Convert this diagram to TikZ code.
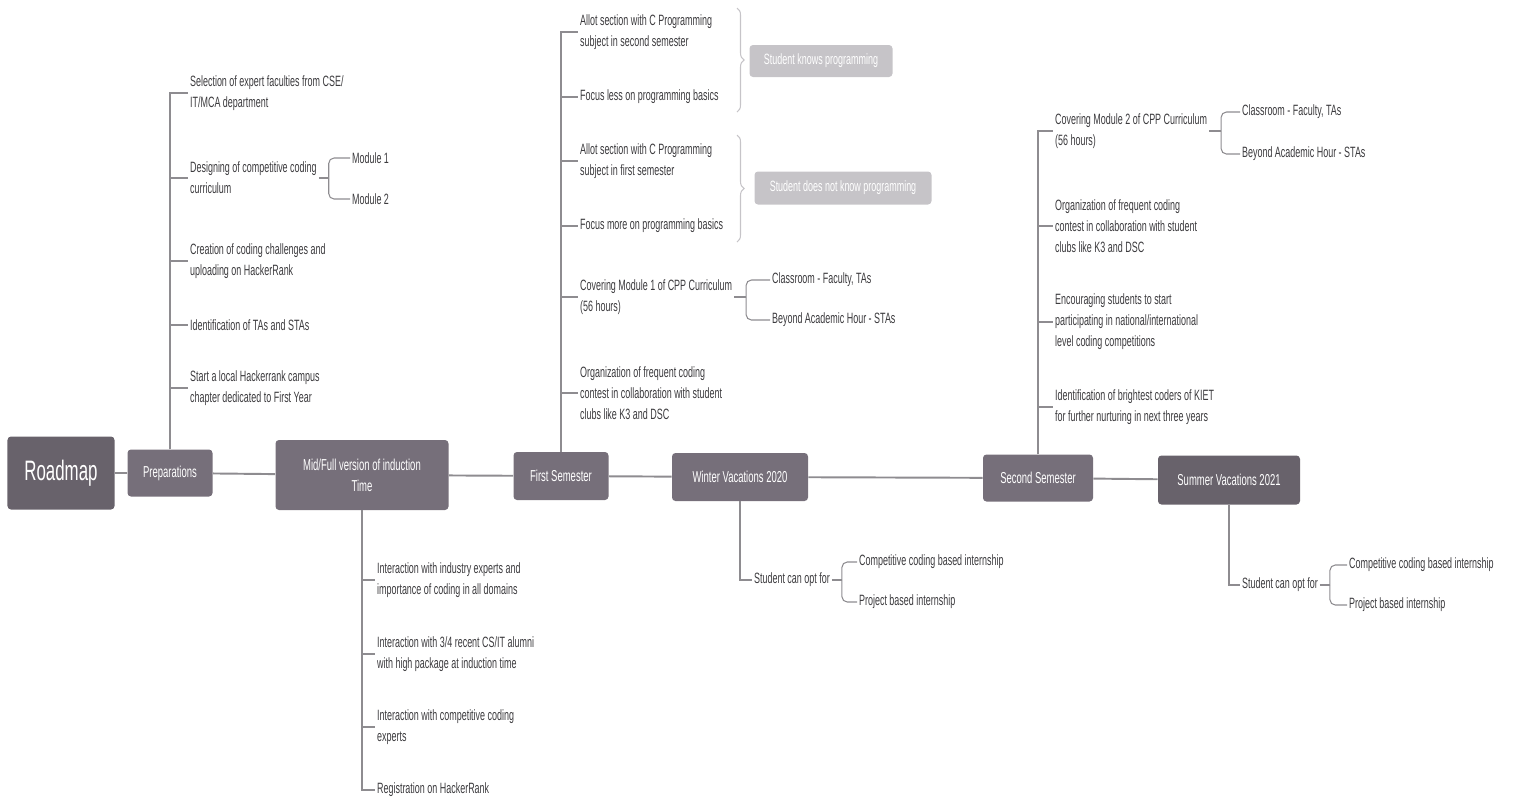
\documentclass[tikz,border=0pt]{standalone}
\usepackage{fontspec}
\setmainfont{Liberation Sans}[FakeStretch=0.6]
\usepackage{tikz}
\usetikzlibrary{positioning,decorations.pathreplacing}
\definecolor{rmdark}{HTML}{68626B}
\definecolor{rmbox}{HTML}{766F7A}
\definecolor{rmlight}{HTML}{C6C4C8}
\definecolor{rmline}{HTML}{8E8C90}
\definecolor{rmtext}{HTML}{3C3B3E}

\begin{document}
\begin{tikzpicture}[x=0.2mm,y=-0.2mm]
    \tikzset{stage/.style={fill=rmbox,rounded corners=2pt,text=white,align=center,inner sep=2pt,font=\fontsize{9}{12}\selectfont},
      leaf/.style={anchor=west,align=left,text=rmtext,inner sep=1pt,font=\fontsize{8.5}{12}\selectfont},
      group/.style={fill=rmlight,rounded corners=2pt,text=white,inner sep=2pt,font=\fontsize{8.5}{11}\selectfont},
      trunk/.style={draw=rmline,line width=1.1pt},
      branch/.style={draw=rmline,line width=0.6pt},
      joint/.style={draw=rmline,line width=0.6pt,rounded corners=3pt},
      grpbrace/.style={draw=rmlight,line width=0.6pt,decorate,decoration={brace,amplitude=4pt}}}
    \useasboundingbox (0,0) rectangle (1517,800);
    % main line of stages
    \node[stage,fill=rmdark,minimum width=21.4mm,minimum height=14.6mm,font=\fontsize{16}{18}\selectfont] (road) at (61,473) {Roadmap};
    \node[stage,minimum width=17mm,minimum height=9.4mm] (prep) at (170,473) {Preparations};
    \node[stage,minimum width=34.6mm,minimum height=14mm] (ind) at (362,475) {Mid/Full version of induction\\Time};
    \node[stage,minimum width=19mm,minimum height=9.6mm] (sem1) at (561,476) {First Semester};
    \node[stage,minimum width=27.2mm,minimum height=9.6mm] (win) at (740,477) {Winter Vacations 2020};
    \node[stage,minimum width=22mm,minimum height=9.4mm] (sem2) at (1038,478) {Second Semester};
    \node[stage,fill=rmdark,minimum width=28.4mm,minimum height=9.8mm] (sum) at (1229,480) {Summer Vacations 2021};
    \draw[trunk] (road) -- (prep) -- (ind) -- (sem1) -- (win) -- (sem2) -- (sum);

    % preparations
    \node[leaf] (p1) at (188,93) {Selection of expert faculties from CSE/\\IT/MCA department};
    \node[leaf] (p2) at (188,178) {Designing of competitive coding\\curriculum};
    \node[leaf] (p3) at (188,261) {Creation of coding challenges and\\uploading on HackerRank};
    \node[leaf] (p4) at (188,325) {Identification of TAs and STAs};
    \node[leaf] (p5) at (188,388) {Start a local Hackerrank campus\\chapter dedicated to First Year};
    \node[leaf] (m1) at (350,158) {Module 1};
    \node[leaf] (m2) at (350,199) {Module 2};
    \draw[branch] (prep.north) |- (p1.west);
    \draw[branch] (prep.north) |- (p2.west);
    \draw[branch] (prep.north) |- (p3.west);
    \draw[branch] (prep.north) |- (p4.west);
    \draw[branch] (prep.north) |- (p5.west);
    \draw[joint] (p2.east) -- ++(10,0) coordinate (p2j);
    \draw[joint] (p2j) |- (m1.west);
    \draw[joint] (p2j) |- (m2.west);

    % induction
    \node[leaf] (i1) at (375,580) {Interaction with industry experts and\\importance of coding in all domains};
    \node[leaf] (i2) at (375,654) {Interaction with 3/4 recent CS/IT alumni\\with high package at induction time};
    \node[leaf] (i3) at (375,727) {Interaction with competitive coding\\experts};
    \node[leaf] (i4) at (375,790) {Registration on HackerRank};
    \draw[branch] (ind.south) |- (i1.west);
    \draw[branch] (ind.south) |- (i2.west);
    \draw[branch] (ind.south) |- (i3.west);
    \draw[branch] (ind.south) |- (i4.west);

    % first semester
    \node[leaf] (s1) at (578,32) {Allot section with C Programming\\subject in second semester};
    \node[leaf] (s2) at (578,97) {Focus less on programming basics};
    \node[leaf] (s3) at (578,161) {Allot section with C Programming\\subject in first semester};
    \node[leaf] (s4) at (578,226) {Focus more on programming basics};
    \node[leaf] (s5) at (578,297) {Covering Module 1 of CPP Curriculum\\(56 hours)};
    \node[leaf] (s6) at (578,393) {Organization of frequent coding\\contest in collaboration with student\\clubs like K3 and DSC};
    \node[leaf] (s5a) at (770,280) {Classroom - Faculty, TAs};
    \node[leaf] (s5b) at (770,320) {Beyond Academic Hour - STAs};
    \foreach \n in {s1,s2,s3,s4,s5,s6}
      \draw[branch] (sem1.north) |- (\n.west);
    \draw[joint] (s5.east) -- ++(12,0) coordinate (s5j);
    \draw[joint] (s5j) |- (s5a.west);
    \draw[joint] (s5j) |- (s5b.west);
    \draw[grpbrace] (737,8) -- (737,112);
    \draw[grpbrace] (737,135) -- (737,242);
    \node[group,minimum width=28.6mm,minimum height=6.4mm] (knows) at (821,61) {Student knows programming};
    \node[group,minimum width=35.4mm,minimum height=6.6mm] (noknow) at (843,188) {Student does not know programming};

    % winter vacations
    \node[leaf] (w0) at (752,580) {Student can opt for};
    \node[leaf] (wa) at (857,562) {Competitive coding based internship};
    \node[leaf] (wb) at (857,602) {Project based internship};
    \draw[branch] (win.south) |- (w0.west);
    \draw[joint] (w0.east) -- ++(10,0) coordinate (w0j);
    \draw[joint] (w0j) |- (wa.west);
    \draw[joint] (w0j) |- (wb.west);

    % second semester
    \node[leaf] (t1) at (1053,131) {Covering Module 2 of CPP Curriculum\\(56 hours)};
    \node[leaf] (t2) at (1053,226) {Organization of frequent coding\\contest in collaboration with student\\clubs like K3 and DSC};
    \node[leaf] (t3) at (1053,322) {Encouraging students to start\\participating in national/international\\level coding competitions};
    \node[leaf] (t4) at (1053,407) {Identification of brightest coders of KIET\\for further nurturing in next three years};
    \node[leaf] (t1a) at (1240,112) {Classroom - Faculty, TAs};
    \node[leaf] (t1b) at (1240,154) {Beyond Academic Hour - STAs};
    \foreach \n in {t1,t2,t3,t4}
      \draw[branch] (sem2.north) |- (\n.west);
    \draw[joint] (t1.east) -- ++(12,0) coordinate (t1j);
    \draw[joint] (t1j) |- (t1a.west);
    \draw[joint] (t1j) |- (t1b.west);

    % summer vacations
    \node[leaf] (u0) at (1240,585) {Student can opt for};
    \node[leaf] (ua) at (1347,565) {Competitive coding based internship};
    \node[leaf] (ub) at (1347,605) {Project based internship};
    \draw[branch] (sum.south) |- (u0.west);
    \draw[joint] (u0.east) -- ++(10,0) coordinate (u0j);
    \draw[joint] (u0j) |- (ua.west);
    \draw[joint] (u0j) |- (ub.west);
  \end{tikzpicture}
\end{document}
